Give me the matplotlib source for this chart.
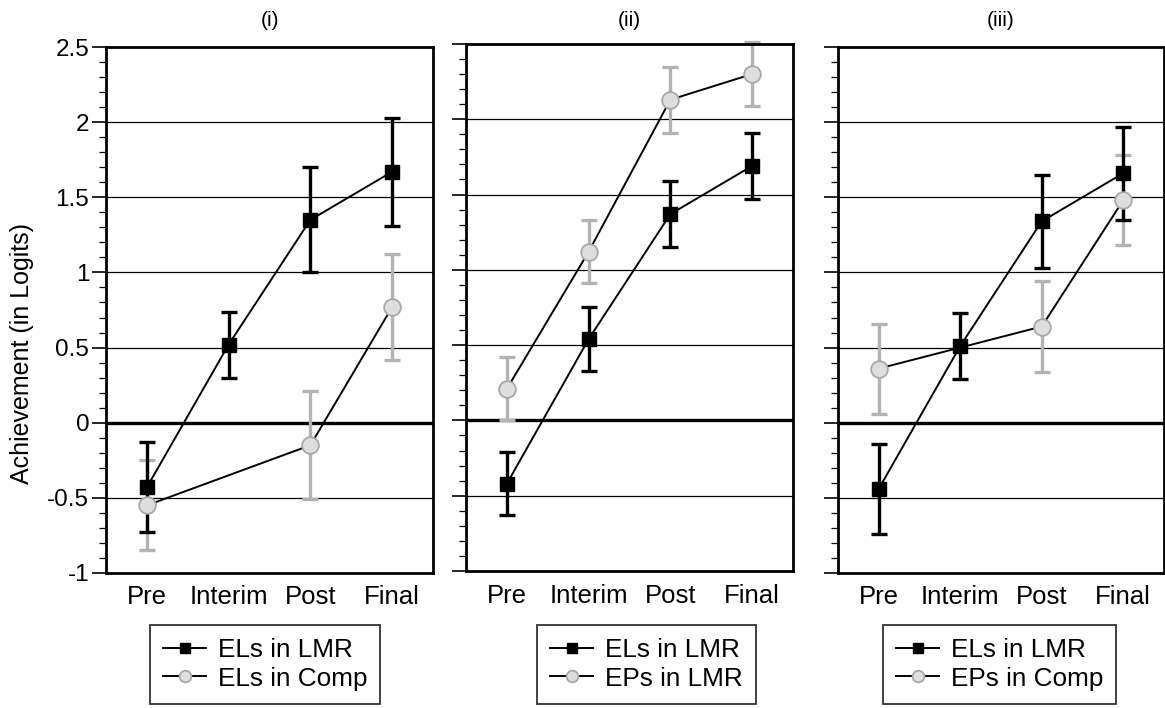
import numpy as np
import matplotlib
matplotlib.use("Agg")
import matplotlib.pyplot as plt
from matplotlib.ticker import MultipleLocator, FuncFormatter

plt.rcParams['font.family'] = ['Liberation Sans', 'DejaVu Sans']
plt.rcParams['axes.unicode_minus'] = False

# data (None = no point at that time)
times = ['Pre', 'Interim', 'Post', 'Final']
titles = ['(i)', '(ii)', '(iii)']
black_labels = ['ELs in LMR', 'ELs in LMR', 'ELs in LMR']
gray_labels = ['ELs in Comp', 'EPs in LMR', 'EPs in Comp']

black_mean = [[-0.43, 0.52, 1.35, 1.67],
              [-0.42, 0.54, 1.37, 1.69],
              [-0.44, 0.51, 1.34, 1.66]]
black_err = [[0.30, 0.22, 0.35, 0.36],
             [0.21, 0.21, 0.22, 0.22],
             [0.30, 0.22, 0.31, 0.31]]
gray_mean = [[-0.55, None, -0.15, 0.77],
             [0.21, 1.12, 2.13, 2.30],
             [0.36, None, 0.64, 1.48]]
gray_err = [[0.30, None, 0.36, 0.35],
            [0.21, 0.21, 0.22, 0.21],
            [0.30, None, 0.30, 0.30]]

# axes positions in figure fractions [left, bottom, width, height]
positions = [[0.0910, 0.1907, 0.2807, 0.7429],
             [0.4000, 0.1935, 0.2807, 0.7444],
             [0.7193, 0.1907, 0.2798, 0.7429]]
legend_left = [0.1288, 0.4610, 0.7580]

fig = plt.figure(figsize=(11.65, 7.08), dpi=100)

for i in range(3):
    ax = fig.add_axes(positions[i])
    x = np.arange(len(times))

    # horizontal grid
    for g in np.arange(-0.5, 2.5, 0.5):
        ax.axhline(g, color='black', lw=2.4 if g == 0 else 0.9, zorder=1)

    gm = [v for v in gray_mean[i] if v is not None]
    ge = [v for v in gray_err[i] if v is not None]
    gx = [x[k] for k, v in enumerate(gray_mean[i]) if v is not None]

    ax.errorbar(gx, gm, yerr=ge, fmt='none', ecolor='#b3b3b3', elinewidth=2.4,
                capsize=5.5, capthick=2.4, zorder=2, clip_on=False)
    ax.errorbar(x, black_mean[i], yerr=black_err[i], fmt='none', ecolor='black',
                elinewidth=2.4, capsize=5.5, capthick=2.4, zorder=3, clip_on=False)
    hb, = ax.plot(x, black_mean[i], color='black', lw=1.4, marker='s', markersize=10.5,
                  markerfacecolor='black', markeredgecolor='black', zorder=4,
                  label=black_labels[i])
    hg, = ax.plot(gx, gm, color='black', lw=1.4, marker='o', markersize=12,
                  markerfacecolor='#dedede', markeredgecolor='#a8a8a8',
                  markeredgewidth=1.3, zorder=5, label=gray_labels[i])

    ax.set_xlim(-0.5, 3.5)
    ax.set_ylim(-1, 2.5)
    ax.set_xticks(x)
    ax.set_xticklabels(times, fontsize=18.5)
    ax.tick_params(axis='x', length=0, pad=9)
    ax.yaxis.set_major_locator(MultipleLocator(0.5))
    ax.yaxis.set_minor_locator(MultipleLocator(0.1))
    ax.tick_params(axis='y', which='major', length=10, width=1.2, labelsize=17.5, pad=2)
    ax.tick_params(axis='y', which='minor', length=5, width=0.9)
    if i == 0:
        ax.yaxis.set_major_formatter(FuncFormatter(lambda v, p: f'{v:g}'))
    else:
        ax.set_yticklabels([])
    for s in ax.spines.values():
        s.set_linewidth(2)

    cx = positions[i][0] + positions[i][2] / 2
    fig.text(cx, 1 - 21 / 708, titles[i], ha='center', va='center', fontsize=15)

    leg = ax.legend(handles=[hb, hg], loc='upper left',
                    bbox_to_anchor=(legend_left[i], 0.1172), bbox_transform=fig.transFigure,
                    borderaxespad=0, fontsize=18.8, frameon=True, fancybox=False,
                    handlelength=1.65, handletextpad=0.45, borderpad=0.5,
                    labelspacing=0.17, markerscale=0.7)
    leg.get_frame().set_edgecolor('black')
    leg.get_frame().set_linewidth(1.3)

fig.text(22 / 1165, 0.5 + 0.0, 'Achievement (in Logits)', rotation=90,
         ha='center', va='center', fontsize=18)

fig.savefig('out.png', dpi=100)
